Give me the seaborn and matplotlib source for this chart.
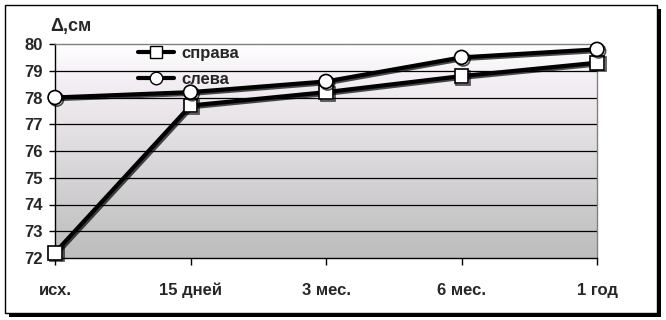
import numpy as np
import pandas as pd
import matplotlib
matplotlib.use("Agg")
import matplotlib.pyplot as plt
import matplotlib.patheffects as pe
from matplotlib.patches import Rectangle
from matplotlib.lines import Line2D
import seaborn as sns

categories = ["исх.", "15 дней", "3 мес.", "6 мес.", "1 год"]
right_vals = [72.2, 77.7, 78.2, 78.8, 79.3]
left_vals = [78.0, 78.2, 78.6, 79.5, 79.8]
series_names = ["справа", "слева"]
y_ticks = [72, 73, 74, 75, 76, 77, 78, 79, 80]

sns.set_theme(style="white")
plt.rcParams['font.family'] = ['Liberation Sans', 'DejaVu Sans']

df = pd.DataFrame({
    "pos": list(range(len(categories))) * 2,
    "val": right_vals + left_vals,
    "series": [series_names[0]] * len(categories) + [series_names[1]] * len(categories),
})

W, H = 666, 320
fig = plt.figure(figsize=(W / 100, H / 100), dpi=100)
fig.patch.set_facecolor("white")

# outer frame with shadow
fig.patches.append(Rectangle((9 / W, 3 / H), 652 / W, 308 / H, transform=fig.transFigure,
                             facecolor="black", edgecolor="none", zorder=0))
fig.patches.append(Rectangle((5 / W, 7 / H), 652 / W, 308 / H, transform=fig.transFigure,
                             facecolor="white", edgecolor="black", linewidth=1, zorder=1))

ax = fig.add_axes([55 / W, 62 / H, 542 / W, 214 / H])
ax.set_zorder(2)
ax.patch.set_alpha(0)

# gradient background
top = np.array([1.0, 1.0, 1.0])
mid = np.array([0.96, 0.94, 0.96])
bot = np.array([0.74, 0.74, 0.74])
colors = np.zeros((256, 1, 3))
for i, t in enumerate(np.linspace(0, 1, 256)):
    if t < 0.15:
        c = top + (mid - top) * (t / 0.15)
    else:
        c = mid + (bot - mid) * ((t - 0.15) / 0.85)
    colors[i, 0] = c
ax.imshow(colors, extent=[0, 4, 72, 80], aspect="auto", zorder=0, origin="upper")

for y in y_ticks[1:-1]:
    ax.axhline(y, color="black", linewidth=0.9, zorder=1)

shadow = [pe.SimpleLineShadow(offset=(1.2, -1.2), shadow_color="black", alpha=0.7), pe.Normal()]
sns.lineplot(data=df, x="pos", y="val", hue="series", style="series",
             palette=["black", "black"], markers={"справа": "s", "слева": "o"},
             dashes=False, linewidth=3, markersize=10, markerfacecolor="white",
             markeredgecolor="black", markeredgewidth=1.2, ax=ax, legend=False,
             zorder=3, clip_on=False)
for ln in ax.get_lines():
    if len(ln.get_xdata()) == 5:
        ln.set_path_effects(shadow)

ax.set_xlim(0, 4)
ax.set_ylim(72, 80)
ax.set_xticks(range(len(categories)))
ax.set_xticklabels(categories, fontsize=12, fontweight="bold")
ax.set_yticks(y_ticks)
ax.set_yticklabels([str(v) for v in y_ticks], fontsize=12, fontweight="bold")
ax.tick_params(axis="x", direction="out", length=5, width=1, pad=13, color="black", bottom=True)
ax.tick_params(axis="y", direction="out", length=4, width=1, pad=5, color="black", left=True)
ax.set_xlabel("")
ax.set_ylabel("")
for s in ["left", "bottom"]:
    ax.spines[s].set_color("black")
    ax.spines[s].set_linewidth(1)
for s in ["top", "right"]:
    ax.spines[s].set_color("#808080")
    ax.spines[s].set_linewidth(1)

handles = [
    Line2D([], [], color="black", linewidth=3, marker="s", markersize=9,
           markerfacecolor="white", markeredgecolor="black"),
    Line2D([], [], color="black", linewidth=3, marker="o", markersize=9,
           markerfacecolor="white", markeredgecolor="black"),
]
leg = ax.legend(handles, series_names, loc="upper left", bbox_to_anchor=(0.125, 1.06),
                frameon=False, handlelength=2.2, handletextpad=0.4, labelspacing=0.65,
                prop={"weight": "bold", "size": 12})

fig.text(50 / W, 1 - 26 / H, "Δ,см", fontsize=13, fontweight="bold", ha="left", va="center")

fig.savefig("out.png", dpi=100)
